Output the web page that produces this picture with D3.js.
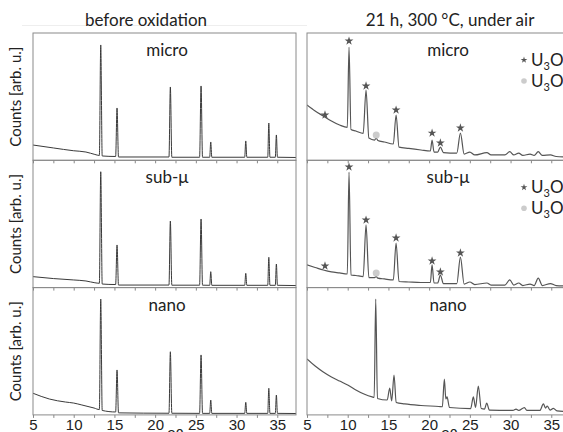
<!DOCTYPE html>
<html><head><meta charset="utf-8">
<script src="https://cdn.jsdelivr.net/npm/d3@7"></script>
<style>body{margin:0;background:#fff;overflow:hidden}</style>
</head><body>
<svg id="chart" width="563" height="432"></svg>
<script>
// ---------- data ----------
const xTickLabels = [5, 10, 15, 20, 25, 30, 35];
const columnTitles = ["before oxidation", "21 h, 300 °C, under air"];
const sampleNames = ["micro", "sub-μ", "nano"];
const yLabel = "Counts [arb. u.]";
const xLabel = "2θ";

// [2θ, counts (arb. u.)]
const microBefore = [[5,12.0],[7.5,9.7],[10,7.5],[11.5,6.5],[12.6,4.6],[13.15,3.8],[13.32,90.6],[13.5,3.4],[15.15,3.0],[15.32,41.1],[15.5,2.6],[21.7,2.6],[21.87,57.6],[22.05,2.4],[25.46,2.4],[25.64,58.4],[25.82,2.4],[26.7,2.4],[26.83,14.4],[26.96,2.4],[31.0,2.4],[31.13,15.2],[31.26,2.4],[33.83,2.4],[33.96,29.3],[34.1,2.4],[34.76,2.4],[34.89,19.9],[35.02,2.4],[37.3,2.2]];
const subBefore = [[5,8.6],[7.5,7.1],[10,6.0],[11.5,5.2],[12.6,3.8],[13.15,3.4],[13.32,91.0],[13.5,2.8],[15.15,2.4],[15.32,33.5],[15.5,2.0],[21.7,2.0],[21.87,52.3],[22.05,1.9],[25.46,1.9],[25.64,53.9],[25.82,1.9],[26.7,1.8],[26.83,12.5],[26.96,1.8],[31.0,1.8],[31.13,11.2],[31.26,1.8],[33.83,1.8],[33.96,23.8],[34.1,1.8],[34.76,1.8],[34.89,18.5],[35.02,1.8],[37.3,1.6]];
const nanoBefore = [[5,17.0],[7,12.5],[9,10.1],[10,9.3],[11,7.8],[12.5,5.4],[13.15,4.2],[13.32,91.0],[13.5,3.5],[15.15,2.3],[15.32,35.3],[15.5,1.6],[21.7,1.3],[21.87,49.6],[22.05,1.3],[25.46,1.2],[25.64,47.1],[25.82,1.2],[26.7,1.2],[26.83,11.7],[26.96,1.2],[31.0,1.2],[31.13,9.9],[31.26,1.2],[33.83,1.2],[33.96,20.9],[34.1,1.2],[34.76,1.2],[34.89,15.6],[35.02,1.2],[37.3,1.1]];

const microAfter = [[5,43.4],[6,38.7],[7,34.8],[8,30.9],[9,27.7],[9.95,25.8],[10.16,89.0],[10.4,24.2],[11.0,23.0],[11.9,21.1],[12.25,55.2],[12.6,17.5],[13.3,15.9],[13.5,17.5],[13.7,15.6],[14.5,14.4],[15.6,12.8],[15.94,35.6],[16.3,10.4],[17.5,9.3],[19,8.1],[20.15,7.3],[20.36,15.9],[20.6,6.5],[21.05,6.5],[21.38,10.4],[21.75,6.1],[23.4,5.7],[23.84,21.4],[24.3,4.9],[25.0,6.5],[25.6,4.2],[27.1,6.0],[27.6,4.2],[29.3,4.2],[29.9,6.8],[30.4,4.2],[31.0,5.7],[31.5,3.8],[32.4,4.9],[32.9,3.8],[33.4,6.8],[33.9,3.8],[34.9,4.2],[35.6,3.0],[37.3,2.6]];
const subAfter = [[5,17.8],[6,15.8],[7,13.8],[8,12.3],[9,11.5],[9.95,10.7],[10.16,90.8],[10.4,9.9],[11.0,9.5],[11.9,8.7],[12.25,49.2],[12.6,7.9],[13.3,7.9],[13.5,8.7],[13.7,7.5],[14.5,6.8],[15.6,6.0],[15.94,35.0],[16.3,4.8],[17.5,4.4],[19,4.0],[20.15,4.0],[20.36,17.8],[20.6,3.6],[21.05,3.6],[21.38,9.9],[21.75,3.2],[23.4,3.2],[23.84,24.0],[24.3,2.8],[25.0,4.4],[25.6,2.4],[27.1,3.6],[27.6,2.0],[29.3,2.0],[29.9,6.0],[30.4,2.0],[31.0,3.6],[31.5,1.6],[32.4,2.8],[32.9,1.6],[33.4,7.5],[33.9,1.6],[34.9,3.2],[35.6,1.6],[37.3,1.3]];
const nanoAfter = [[5,43.9],[6,38.4],[7,33.7],[8,29.8],[9,26.6],[10,23.5],[11,19.6],[12,16.4],[13.0,14.1],[13.25,13.7],[13.44,91.0],[13.65,12.9],[14.85,11.7],[15.16,21.1],[15.4,10.9],[15.69,31.3],[15.95,9.7],[17,8.6],[19,7.4],[21.2,6.6],[21.62,6.4],[21.87,28.2],[22.05,12.5],[22.2,14.1],[22.5,5.8],[25.1,5.0],[25.43,14.1],[25.7,5.8],[26.04,22.7],[26.4,5.0],[26.8,4.6],[27.07,9.3],[27.4,3.8],[30.3,3.5],[30.67,4.6],[31.0,3.5],[31.7,5.7],[32.0,3.5],[33.6,3.5],[34.03,8.6],[34.3,5.4],[34.5,7.0],[34.85,3.8],[35.26,5.2],[35.7,3.1],[37.3,2.5]];

// phase markers [2θ, level]
const microAfterStars = [[7.21,35.6],[10.16,93.7],[12.25,58.4],[15.94,39.5],[20.36,21.4],[21.38,13.6],[23.84,25.4]];
const microAfterCircles = [[13.5,19.9]];
const subAfterStars = [[7.21,17.0],[10.16,94.7],[12.25,53.1],[15.94,39.0],[20.36,20.9],[21.38,12.3],[23.84,27.2]];
const subAfterCircles = [[13.5,11.5]];
const legendPhases = [["U","3","O","8"],["U","3","O","7"]];

// ---------- layout ----------
const colLeft = [33, 307], panelW = 263, rowTop = 33, panelH = 127.3;
const svg = d3.select("#chart");
const x = d3.scaleLinear().domain([5, 37.3]).range([0, panelW]);
const y = d3.scaleLinear().domain([0, 100]).range([panelH, 0]);
const minorTicks = d3.range(5, 37.3, 2.5);

const panels = [
  {c:0, r:0, data:microBefore}, {c:0, r:1, data:subBefore}, {c:0, r:2, data:nanoBefore},
  {c:1, r:0, data:microAfter, stars:microAfterStars, circles:microAfterCircles, legend:true},
  {c:1, r:1, data:subAfter, stars:subAfterStars, circles:subAfterCircles, legend:true},
  {c:1, r:2, data:nanoAfter}
];

// faint top rule
svg.append("line").attr("x1",22).attr("x2",307).attr("y1",25.5).attr("y2",25.5)
  .attr("stroke","#eeeeee").attr("stroke-width",1);

const font = "Lato, 'Open Sans', sans-serif";
const line = d3.line().x(d=>x(d[0])).y(d=>y(d[1])).curve(d3.curveMonotoneX);

panels.forEach((p,i)=>{
  const g = svg.append("g").attr("transform",`translate(${colLeft[p.c]},${rowTop + p.r*panelH})`);
  g.append("clipPath").attr("id","clip"+i).append("rect").attr("width",panelW).attr("height",panelH);
  g.append("path").datum(p.data).attr("d",line).attr("fill","none")
    .attr("stroke", p.c===0 ? "#3a3a3a" : "#555").attr("stroke-width", p.c===0 ? 1 : 1.2)
    .attr("clip-path",`url(#clip${i})`);
  // axis ticks
  const ax = g.append("g").attr("transform",`translate(0,${panelH})`)
    .call(d3.axisBottom(x).tickValues(minorTicks).tickSize(3).tickFormat(""));
  ax.select(".domain").remove();
  ax.selectAll(".tick line").attr("stroke","#888");
  if (p.r===2) {
    const lab = g.append("g").attr("transform",`translate(0,${panelH})`)
      .call(d3.axisBottom(x).tickValues(xTickLabels).tickSize(0).tickPadding(4));
    lab.select(".domain").remove();
    lab.selectAll("text").attr("font-family","'Liberation Sans', Arial, sans-serif")
      .attr("font-size",15).attr("fill","#222");
    g.append("text").attr("x", panelW/2 + 11).attr("y", panelH + 25)
      .attr("text-anchor","middle").attr("font-family","'Liberation Sans', Arial, sans-serif")
      .attr("font-size",15).attr("fill","#222").text(xLabel);
  }
  // frame
  g.append("rect").attr("width",panelW).attr("height",panelH)
    .attr("fill","none").attr("stroke","#8a8a8a").attr("stroke-width",1);
  // sample name
  g.append("text").attr("x", p.c===0 ? 134 : 141).attr("y", 23).attr("text-anchor","middle")
    .attr("font-family",font).attr("font-size",17).attr("fill","#222").text(sampleNames[p.r]);
  // y label
  if (p.c===0) {
    g.append("text").attr("transform",`translate(-16,${panelH/2}) rotate(-90)`)
      .attr("text-anchor","middle").attr("dominant-baseline","middle")
      .attr("font-family",font).attr("font-size",15).attr("fill","#222").text(yLabel);
  }
  // markers
  if (p.stars) {
    g.selectAll("path.star").data(p.stars).join("path").attr("class","star")
      .attr("d", d3.symbol(d3.symbolStar, 24)())
      .attr("transform", d=>`translate(${x(d[0])},${y(d[1])})`).attr("fill","#555");
    g.selectAll("circle.ph").data(p.circles).join("circle").attr("class","ph")
      .attr("cx", d=>x(d[0])).attr("cy", d=>y(d[1])).attr("r",3.5).attr("fill","#cccccc");
  }
  if (p.legend) {
    legendPhases.forEach((ph,k)=>{
      const ly = 27 + k*21;
      if (k===0) g.append("path").attr("d", d3.symbol(d3.symbolStar, 14)())
        .attr("transform",`translate(217,${ly})`).attr("fill","#555");
      else g.append("circle").attr("cx",217).attr("cy",ly).attr("r",2.8).attr("fill","#cccccc");
      const t = g.append("text").attr("x",224).attr("y",ly+6).attr("font-family",font)
        .attr("font-size",17).attr("fill","#222");
      t.append("tspan").text(ph[0]);
      t.append("tspan").attr("font-size",11).attr("dy",4).text(ph[1]);
      t.append("tspan").attr("dy",-4).text(ph[2]);
      t.append("tspan").attr("font-size",11).attr("dy",4).text(ph[3]);
    });
  }
});

// column titles
svg.selectAll("text.title").data(columnTitles).join("text").attr("class","title")
  .attr("x",(d,i)=> i===0 ? 146 : 450).attr("y",26).attr("text-anchor","middle")
  .attr("font-family",font).attr("font-size",17).attr("fill","#222").text(d=>d);
</script>
</body></html>
